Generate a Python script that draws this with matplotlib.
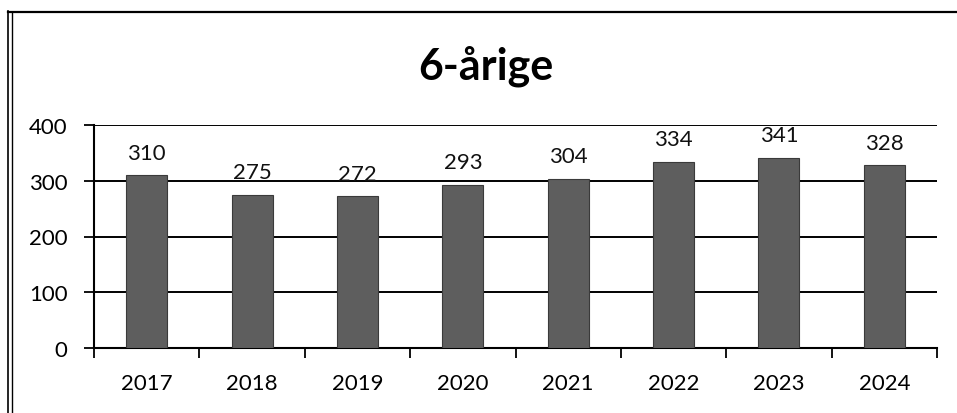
import matplotlib
matplotlib.use("Agg")
import matplotlib.pyplot as plt
from matplotlib.lines import Line2D
import numpy as np

# Data
years = ["2017", "2018", "2019", "2020", "2021", "2022", "2023", "2024"]
counts = [310, 275, 272, 293, 304, 334, 341, 328]

plt.rcParams['font.family'] = ['Lato', 'DejaVu Sans']

fig = plt.figure(figsize=(9.57, 4.14), dpi=100)
ax = fig.add_axes([94 / 957, 1 - 349 / 414, (937 - 94) / 957, (349 - 126) / 414])

x = np.arange(len(years))
bars = ax.bar(x, counts, width=0.39, color='#5e5e5e', edgecolor='#3a3a3a',
              linewidth=0.8, zorder=3)

for xi, v in zip(x, counts):
    ax.annotate(str(v), (xi, v), xytext=(0, 9), textcoords='offset points',
                ha='center', va='bottom', fontsize=16, color='#111111')

ax.set_ylim(0, 400)
ax.set_xlim(-0.5, len(years) - 0.5)
ax.set_yticks([0, 100, 200, 300, 400])
ax.tick_params(axis='y', labelsize=16, length=7, width=1.3, pad=12,
               colors='black')

# category labels centred, tick marks between categories
ax.set_xticks(x)
ax.set_xticklabels(years, fontsize=16)
ax.tick_params(axis='x', which='major', length=0, pad=18)
ax.set_xticks(np.arange(-0.5, len(years)), minor=True)
ax.tick_params(axis='x', which='minor', length=7, width=1.3, direction='out')

ax.grid(axis='y', color='black', linewidth=1.4, zorder=0)
ax.set_axisbelow(True)
for side in ['top', 'right']:
    ax.spines[side].set_visible(False)
for side in ['left', 'bottom']:
    ax.spines[side].set_linewidth(1.5)

fig.text(0.508, 0.84, "6-årige", ha='center', va='center', fontsize=31,
         fontweight='bold')

# frame of the chart box
fig.add_artist(Line2D([8 / 957, 8 / 957], [0, 1 - 12 / 414], color='black', lw=1.2))
fig.add_artist(Line2D([12 / 957, 12 / 957], [0, 1 - 14 / 414], color='black', lw=1.0))
fig.add_artist(Line2D([8 / 957, 1], [1 - 13 / 414, 1 - 13 / 414], color='black', lw=1.6))

fig.savefig('out.png', dpi=100)
